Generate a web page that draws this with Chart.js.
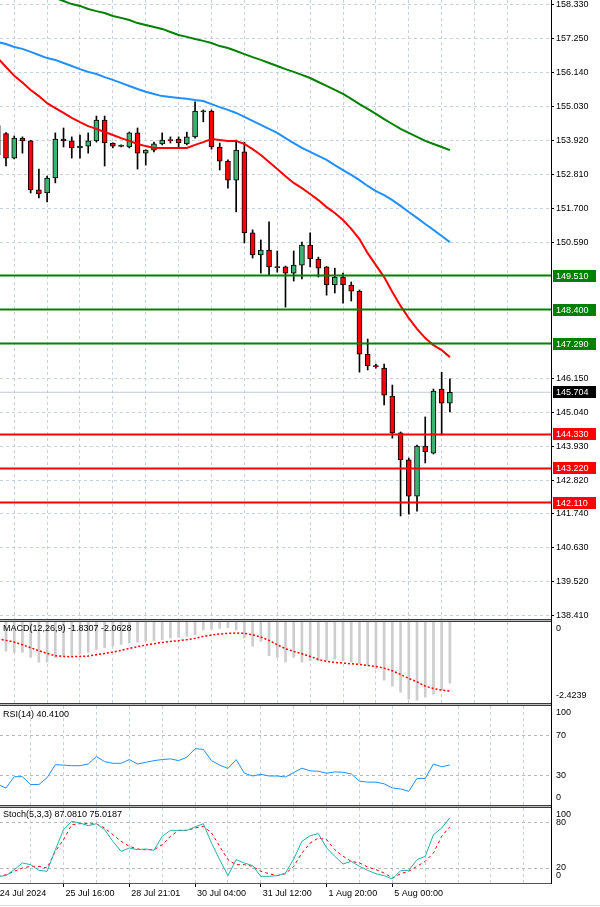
<!DOCTYPE html>
<html><head><meta charset="utf-8"><title>H4 chart</title>
<script src="https://cdn.jsdelivr.net/npm/chart.js@4.4.1/dist/chart.umd.min.js"></script>
<style>
html,body{margin:0;padding:0;background:#fff}
body{position:relative;width:600px;height:907px;overflow:hidden}
canvas{position:absolute;left:0;display:block}
.sep{position:absolute;left:0;width:551px;height:3px;background:linear-gradient(#3c3c3c 0 1px,#bdbdbd 1px 2px,#3c3c3c 2px 3px)}
.vax{position:absolute;left:551px;top:0;width:1px;height:884px;background:#000}
</style></head><body>
<canvas id="cMain" width="600" height="619" style="top:0px"></canvas>
<div class="sep" style="top:619px"></div>
<canvas id="cMacd" width="600" height="81" style="top:622px"></canvas>
<div class="sep" style="top:703px"></div>
<canvas id="cRsi" width="600" height="99" style="top:706px"></canvas>
<div class="sep" style="top:805px"></div>
<canvas id="cSto" width="600" height="99" style="top:808px"></canvas>
<div class="vax"></div>
<div style="position:absolute;left:0;top:905px;width:600px;height:1px;background:#dadada"></div>
<script>
// ---------------- data (first entry = partially visible bar at the left edge) ----------------
const opens  = [154.40, 154.14,153.34,153.99,153.90,152.30,152.20,152.69,153.96,153.90,153.67, 153.73,153.90,154.58,153.83,153.74,153.70,154.16,153.50,153.60,153.80, 153.93,153.96,153.80,154.03,154.87,154.87,153.70,153.24,152.62,153.54, 150.90,150.18,150.34,149.79,149.79,149.59,149.85,150.50,150.05,149.79, 149.20,149.46,149.20,149.00,146.95,146.56,146.49,145.58,144.38,143.50, 142.32,143.95,143.72,145.81,145.35];
const highs  = [154.70, 154.17,154.06,154.03,153.92,152.98,152.75,154.16,154.32,154.03,154.09, 154.16,154.71,154.71,153.84,153.77,154.19,154.32,153.61,153.86,154.16, 154.03,154.03,154.19,155.17,154.91,154.91,153.83,153.28,153.93,153.86, 151.00,150.67,151.26,150.31,149.82,150.31,150.60,150.90,150.11,149.80, 149.75,149.59,149.30,149.04,147.44,146.62,146.62,145.94,144.41,143.56, 143.98,144.90,145.81,146.36,146.14];
const lows   = [153.30, 153.08,153.31,153.50,152.20,152.04,151.91,152.53,153.70,153.34,153.34, 153.50,153.86,153.08,153.67,153.70,153.67,152.98,153.11,153.54,153.77, 153.83,153.70,153.77,153.99,154.52,153.63,152.95,152.36,151.58,150.57, 150.08,149.59,149.53,149.62,148.48,149.33,149.40,149.79,149.46,148.87, 148.94,148.61,148.68,146.36,146.43,146.49,145.29,144.21,141.67,141.73, 141.83,143.40,143.69,144.31,145.06];
const closes = [153.45, 153.34,153.99,153.90,152.30,152.17,152.69,153.96,153.90,153.67,153.73, 153.90,154.58,153.83,153.73,153.73,154.16,153.50,153.60,153.80,153.93, 153.92,153.83,154.03,154.87,154.86,153.70,153.24,152.62,153.60,150.90, 150.18,150.34,149.79,149.78,149.59,149.85,150.50,150.05,149.75,149.20, 149.46,149.20,149.00,146.95,146.56,146.55,145.61,144.38,143.50,142.32, 143.95,143.76,145.74,145.35,145.704];

const maFast = [156.60, 156.31,156.02,155.80,155.56,155.36,155.13,154.97,154.81,154.65,154.51, 154.38,154.29,154.19,154.09,153.99,153.90,153.80,153.73,153.67,153.67, 153.67,153.67,153.67,153.77,153.86,153.96,153.93,153.90,153.90,153.80, 153.63,153.44,153.21,152.98,152.75,152.53,152.36,152.17,151.97,151.74, 151.55,151.32,151.03,150.70,150.24,149.85,149.46,148.97,148.52,148.12, 147.77,147.47,147.24,147.08,146.85];
const maMid  = [157.12, 157.06,156.96,156.90,156.80,156.70,156.60,156.54,156.44,156.34,156.24, 156.15,156.08,155.98,155.89,155.79,155.69,155.59,155.50,155.43,155.36, 155.33,155.30,155.27,155.23,155.20,155.10,155.00,154.91,154.81,154.68, 154.55,154.42,154.29,154.16,153.99,153.83,153.67,153.54,153.41,153.28, 153.11,152.95,152.79,152.62,152.43,152.26,152.13,151.97,151.78,151.58, 151.39,151.19,151.00,150.80,150.60];
const maSlow = [159.15, 159.05,158.95,158.85,158.75,158.69,158.62,158.56,158.46,158.36,158.30, 158.20,158.13,158.07,157.97,157.91,157.84,157.74,157.68,157.61,157.55, 157.45,157.35,157.29,157.22,157.16,157.09,156.99,156.93,156.83,156.73, 156.63,156.54,156.44,156.34,156.24,156.15,156.05,155.95,155.82,155.69, 155.56,155.43,155.27,155.10,154.94,154.78,154.61,154.45,154.29,154.16, 154.03,153.90,153.80,153.70,153.60];

const macdMain   = [-0.85, -0.87,-0.91,-0.91,-1.06,-1.20,-1.20,-1.06,-1.01,-1.01,-0.96, -0.91,-0.82,-0.77,-0.72,-0.67,-0.63,-0.60,-0.56,-0.56,-0.53, -0.48,-0.46,-0.43,-0.39,-0.24,-0.21,-0.19,-0.17,-0.24,-0.48, -0.72,-0.58,-1.01,-1.06,-1.20,-1.06,-1.20,-1.16,-1.16,-1.14, -1.11,-1.16,-1.20,-1.25,-1.30,-1.40,-1.74,-1.92,-2.10,-2.31, -2.34,-2.25,-2.16,-2.04,-1.8307];
const macdSignal = [-0.50, -0.55,-0.60,-0.68,-0.77,-0.86,-0.94,-1.01,-1.03,-1.04,-1.03, -1.02,-0.98,-0.94,-0.90,-0.85,-0.79,-0.74,-0.69,-0.65,-0.61, -0.58,-0.56,-0.53,-0.49,-0.43,-0.39,-0.36,-0.34,-0.33,-0.34, -0.38,-0.45,-0.55,-0.68,-0.80,-0.88,-0.95,-1.03,-1.12,-1.18, -1.21,-1.23,-1.25,-1.27,-1.30,-1.33,-1.38,-1.46,-1.57,-1.69, -1.79,-1.92,-1.99,-2.04,-2.0628];
const rsi = [20.7, 17.2,28.6,28.6,20.7,20.7,27.6,40.7,40.3,39.7,39.7, 41.4,49.0,43.8,42.1,42.1,45.9,41.4,43.1,44.8,45.9, 46.6,44.8,48.3,56.9,56.2,44.8,40.3,36.9,45.9,32.1, 29.3,31.0,29.3,29.3,28.3,32.8,37.2,34.5,34.1,32.1, 33.4,33.1,31.4,24.1,23.1,23.1,21.4,17.2,16.2,13.8, 26.9,26.9,41.4,38.6,40.41];
const stochMain = [8.9, 9.8,17.8,26.7,24.4,16.9,15.6,44.4,71.1,82.2,80.0, 76.4,79.1,71.1,55.6,42.2,46.7,44.4,45.3,43.6,62.2, 70.2,70.2,70.2,74.7,79.1,53.3,31.1,9.8,31.1,26.7, 23.1,8.9,8.9,9.8,13.3,32.0,55.6,63.1,65.8,46.7, 35.6,25.3,28.9,22.2,16.9,12.4,9.8,5.3,16.4,16.9, 31.1,35.6,64.4,73.3,87.081];
const stochSignal = [8.0, 11.1,15.6,20.0,22.2,22.2,20.0,42.2,57.8,77.8,79.1, 79.1,78.7,73.3,64.4,55.6,48.9,45.3,44.4,44.4,51.1, 62.2,70.2,70.2,73.3,75.6,66.7,48.9,31.1,24.4,24.4, 22.2,15.6,12.4,9.8,12.4,22.2,40.0,53.3,60.0,57.8, 44.4,35.6,28.9,26.7,21.3,17.8,13.3,6.7,12.4,15.6, 22.2,28.9,40.0,62.2,75.0187];

const supportLevels    = [144.33, 143.22, 142.11];
const resistanceLevels = [149.51, 148.40, 147.29];
const lastPrice = 145.704;
const priceTicks  = [158.33,157.25,156.14,155.03,153.92,152.81,151.70,150.59,146.15,145.04,143.93,142.82,141.74,140.63,139.52,138.41];
const timeLabels  = ['24 Jul 2024','25 Jul 16:00','28 Jul 21:01','30 Jul 04:00','31 Jul 12:00','1 Aug 20:00','5 Aug 00:00'];
const macdTitle  = 'MACD(12,26,9) -1.8307 -2.0628';
const rsiTitle   = 'RSI(14) 40.4100';
const stochTitle = 'Stoch(5,3,3) 87.0810 75.0187';

// ---------------- layout / style ----------------
const FONT_FAM = "'Liberation Sans', Arial, sans-serif";
const FONT = "9px " + FONT_FAM;
const AXIS_W = 49;
const X_MIN = 0.27, X_MAX = 67.30;          // bar index range shown across the plot width
const P_MAX = 158.493, P_MIN = 138.312;
const MACD_MIN = -2.4239;
const GRID = '#c6d0e0';
const BULL = '#3cb371', BEAR = '#ff0000';
const LABEL_STEP = 8, GRID_STEP = 4;

Chart.defaults.font.family = FONT_FAM;
Chart.defaults.font.size = 9;
Chart.defaults.color = '#000';
Chart.defaults.animation = false;
Chart.defaults.responsive = false;
Chart.defaults.devicePixelRatio = 1;
Chart.defaults.events = [];
Chart.defaults.plugins.legend.display = false;
Chart.defaults.plugins.tooltip.enabled = false;

const gridIdx = [];
for (let k = GRID_STEP; k <= X_MAX; k += GRID_STEP) gridIdx.push(k);
const labelIdx = timeLabels.map((t, i) => i * LABEL_STEP);

function xAxis(withLabels) {
  return {
    type: 'linear', position: 'bottom', min: X_MIN, max: X_MAX, offset: false,
    afterBuildTicks(s) {
      const vals = withLabels ? Array.from(new Set(labelIdx.concat(gridIdx))).sort((a, b) => a - b) : gridIdx;
      s.ticks = vals.map(v => ({ value: v }));
    },
    afterFit(s) { s.height = withLabels ? 24 : 0; s.paddingLeft = 0; s.paddingRight = 0; },
    grid: {
      display: true, drawOnChartArea: true, drawTicks: withLabels, tickLength: 4, lineWidth: 1,
      color: c => (c.tick && gridIdx.includes(c.tick.value)) ? GRID : 'rgba(0,0,0,0)',
      tickColor: c => (c.tick && labelIdx.includes(c.tick.value)) ? '#000' : 'rgba(0,0,0,0)',
      tickWidth: 1
    },
    border: { display: withLabels, color: '#555', width: 1, dash: [3, 3] },
    ticks: {
      display: withLabels, autoSkip: false, maxRotation: 0, minRotation: 0,
      align: 'start', labelOffset: 2, padding: 1, font: { size: 9 }, color: '#000',
      callback: v => { const i = labelIdx.indexOf(v); return i >= 0 ? timeLabels[i] : ''; }
    }
  };
}

function indicatorY(min, max, levels) {
  return {
    type: 'linear', position: 'right', min: min, max: max, display: true,
    afterBuildTicks(s) { s.ticks = levels.map(v => ({ value: v })); },
    afterFit(s) { s.width = AXIS_W; s.paddingTop = 0; s.paddingBottom = 0; },
    grid: { display: levels.length > 0, color: '#b8b8b8', lineWidth: 1, drawTicks: false },
    border: { display: true, color: '#000', width: 1, dash: [3, 3] },
    ticks: { display: false }
  };
}

const panelPlugin = {
  id: 'panel',
  afterDraw(chart, args, opts) {
    const ctx = chart.ctx, a = chart.chartArea, ys = chart.scales.y;
    ctx.save();
    ctx.font = FONT;
    ctx.textBaseline = 'middle';
    ctx.textAlign = 'left';
    if (opts.title) { ctx.fillStyle = '#000'; ctx.fillText(opts.title, 3, a.top + opts.titleDy); }
    (opts.axisLabels || []).forEach(l => {
      let y = ys.getPixelForValue(l.v);
      y = Math.min(Math.max(y, a.top + 7), a.bottom - 7);
      ctx.fillStyle = '#000';
      ctx.fillText(l.text, a.right + 5, y);
    });
    (opts.boxes || []).forEach(b => {
      const y = Math.round(ys.getPixelForValue(b.v));
      ctx.fillStyle = b.bg;
      ctx.fillRect(a.right + 2, y - 6, 43, 12);
      ctx.fillStyle = '#fff';
      ctx.fillText(b.text, a.right + 5, y + 0.5);
    });
    ctx.restore();
  }
};

// ---------------- main price chart ----------------
const wickData = closes.map((c, k) => ({ x: k, y: [lows[k], highs[k]] }));
const bodyData = closes.map((c, k) => {
  let lo = Math.min(opens[k], c), hi = Math.max(opens[k], c);
  if (hi - lo < 0.035) { const m = (hi + lo) / 2; lo = m - 0.0175; hi = m + 0.0175; }
  return { x: k, y: [lo, hi] };
});
const bodyColors = closes.map((c, k) => c >= opens[k] ? BULL : BEAR);
const lineSeries = arr => arr.map((v, k) => ({ x: k, y: v }));
const hLine = v => [{ x: X_MIN - 2, y: v }, { x: X_MAX + 2, y: v }];

const mainDatasets = [];
resistanceLevels.forEach(v => mainDatasets.push({ type: 'line', data: hLine(v), borderColor: '#008000', borderWidth: 2, pointRadius: 0, order: 0 }));
supportLevels.forEach(v => mainDatasets.push({ type: 'line', data: hLine(v), borderColor: '#ff0000', borderWidth: 2, pointRadius: 0, order: 0 }));
mainDatasets.push({ type: 'line', data: lineSeries(maFast), borderColor: '#ff0000', borderWidth: 2, pointRadius: 0, order: 1 });
mainDatasets.push({ type: 'line', data: lineSeries(maMid),  borderColor: '#1e90ff', borderWidth: 2, pointRadius: 0, order: 1 });
mainDatasets.push({ type: 'line', data: lineSeries(maSlow), borderColor: '#008000', borderWidth: 2, pointRadius: 0, order: 1 });
mainDatasets.push({ type: 'bar', data: bodyData, backgroundColor: bodyColors, borderColor: '#000', borderWidth: 1, borderSkipped: false, barThickness: 5, grouped: false, order: 2 });
mainDatasets.push({ type: 'bar', data: wickData, backgroundColor: '#000', borderWidth: 0, barThickness: 1, grouped: false, order: 3 });
mainDatasets.push({ type: 'line', data: hLine(lastPrice), borderColor: '#c3cad6', borderWidth: 1, pointRadius: 0, order: 4 });

new Chart(document.getElementById('cMain'), {
  type: 'bar',
  data: { datasets: mainDatasets },
  options: {
    layout: { padding: 0 },
    scales: {
      x: xAxis(false),
      y: {
        type: 'linear', position: 'right', min: P_MIN, max: P_MAX,
        afterBuildTicks(s) { s.ticks = priceTicks.map(v => ({ value: v })); },
        afterFit(s) { s.width = AXIS_W; s.paddingTop = 0; s.paddingBottom = 0; },
        grid: { color: GRID, lineWidth: 1, drawTicks: true, tickLength: 3, tickColor: '#000', tickWidth: 1 },
        border: { display: true, color: '#000', width: 1, dash: [3, 3] },
        ticks: { padding: 2, color: '#000', font: { size: 9 }, autoSkip: false, callback: v => v.toFixed(3) }
      }
    },
    plugins: {
      panel: {
        boxes: resistanceLevels.map(v => ({ v, text: v.toFixed(3), bg: '#008000' }))
          .concat(supportLevels.map(v => ({ v, text: v.toFixed(3), bg: '#ff0000' })))
          .concat([{ v: lastPrice, text: lastPrice.toFixed(3), bg: '#000' }])
      }
    }
  },
  plugins: [panelPlugin]
});

// ---------------- MACD ----------------
new Chart(document.getElementById('cMacd'), {
  type: 'bar',
  data: { datasets: [
    { type: 'line', data: lineSeries(macdSignal), borderColor: '#ff0000', borderWidth: 1.5, borderDash: [2, 2], pointRadius: 0, order: 0 },
    { type: 'bar', data: lineSeries(macdMain), backgroundColor: '#cdcdcd', borderWidth: 0, barThickness: 2, grouped: false, order: 1 }
  ]},
  options: {
    scales: { x: xAxis(false), y: indicatorY(MACD_MIN, 0, []) },
    plugins: { panel: { title: macdTitle, titleDy: 7, axisLabels: [{ v: 0, text: '0' }, { v: MACD_MIN, text: MACD_MIN.toFixed(4) }] } }
  },
  plugins: [panelPlugin]
});

// ---------------- RSI ----------------
new Chart(document.getElementById('cRsi'), {
  type: 'line',
  data: { datasets: [
    { data: lineSeries(rsi), borderColor: '#1e90ff', borderWidth: 1, pointRadius: 0 }
  ]},
  options: {
    scales: { x: xAxis(false), y: indicatorY(0, 100, [30, 70]) },
    plugins: { panel: { title: rsiTitle, titleDy: 9, axisLabels: [100, 70, 30, 0].map(v => ({ v, text: String(v) })) } }
  },
  plugins: [panelPlugin]
});

// ---------------- Stochastic ----------------
new Chart(document.getElementById('cSto'), {
  type: 'line',
  data: { datasets: [
    { data: lineSeries(stochSignal), borderColor: '#ff0000', borderWidth: 1, borderDash: [3, 3], pointRadius: 0, order: 1 },
    { data: lineSeries(stochMain), borderColor: '#20b2aa', borderWidth: 1, pointRadius: 0, order: 0 }
  ]},
  options: {
    scales: { x: xAxis(true), y: indicatorY(0, 100, [20, 80]) },
    plugins: { panel: { title: stochTitle, titleDy: 7, axisLabels: [100, 80, 20, 0].map(v => ({ v, text: String(v) })) } }
  },
  plugins: [panelPlugin]
});
</script>
</body></html>
